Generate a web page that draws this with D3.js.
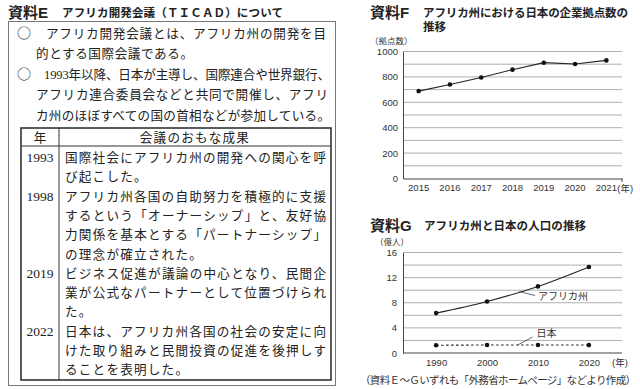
<!DOCTYPE html>
<html>
<head>
<meta charset="utf-8">
<script src="https://cdn.jsdelivr.net/npm/d3@7"></script>
<style>
body { margin: 0; background: #fff; }
.serif text { font-family: "Liberation Serif", "Noto Sans CJK JP", serif; }
.sans text, text.sans { font-family: "Liberation Sans", "Noto Sans CJK JP", sans-serif; }
.cjk text { font-family: "Noto Sans CJK JP", sans-serif; }
</style>
</head>
<body>
<svg width="640" height="389"></svg>
<script>
// 資料F
const baseYears = [2015, 2016, 2017, 2018, 2019, 2020, 2021];
const baseCounts = [688, 740, 795, 857, 912, 901, 930];
const baseTicks = [0, 200, 400, 600, 800, 1000];

// 資料G
const popYears = [1990, 2000, 2010, 2020];
const africaPop = [6.35, 8.2, 10.6, 13.7];
const japanPop = [1.24, 1.27, 1.28, 1.26];
const popTicks = [0, 4, 8, 12, 16];

// 資料E
const introLines = [
  ["○", "アフリカ開発会議とは、アフリカ州の開発を目"],
  ["", "的とする国際会議である。"],
  ["○", "1993年以降、日本が主導し、国際連合や世界銀行、"],
  ["", "アフリカ連合委員会などと共同で開催し、アフリ"],
  ["", "カ州のほぼすべての国の首相などが参加している。"]
];
const tableYears = ["1993", "1998", "2019", "2022"];
const tableTexts = [
  ["国際社会にアフリカ州の開発への関心を呼", "び起こした。"],
  ["アフリカ州各国の自助努力を積極的に支援", "するという「オーナーシップ」と、友好協", "力関係を基本とする「パートナーシップ」", "の理念が確立された。"],
  ["ビジネス促進が議論の中心となり、民間企", "業が公式なパートナーとして位置づけられ", "た。"],
  ["日本は、アフリカ州各国の社会の安定に向", "けた取り組みと民間投資の促進を後押しす", "ることを表明した。"]
];

const svg = d3.select("svg");
const ink = "#222";

// ---------- left panel ----------
const left = svg.append("g").attr("class", "serif");
const head = svg.append("g").attr("class", "sans");
const marks = svg.append("g").attr("class", "cjk");
head.append("text").attr("x", 8).attr("y", 18)
  .attr("font-size", 15).attr("font-weight", "bold").attr("fill", ink).text("資料E");
head.append("text").attr("x", 62).attr("y", 17)
  .attr("font-size", 11.5).attr("font-weight", "bold").attr("fill", ink)
  .attr("textLength", 221).attr("lengthAdjust", "spacing")
  .text("アフリカ開発会議（ＴＩＣＡＤ）について");

left.append("rect").attr("x", 8.5).attr("y", 21.5).attr("width", 327).attr("height", 364)
  .attr("fill", "none").attr("stroke", "#777").attr("stroke-width", 1);

const introY = [33, 53, 74, 94, 115];
const introSpan = [[46, 326], [36, 193], [44, 330], [36, 328], [36, 330]];
introLines.forEach((l, i) => {
  if (l[0]) {
    marks.append("text").attr("x", 17).attr("y", introY[i] + 5).attr("font-size", 14)
      .attr("fill", ink).text(l[0]);
  }
  left.append("text").attr("x", introSpan[i][0]).attr("y", introY[i] + 5)
    .attr("font-size", 12.6).attr("fill", ink)
    .attr("textLength", introSpan[i][1] - introSpan[i][0]).attr("lengthAdjust", "spacing")
    .text(l[1]);
});

// table
const tX0 = 21, tX1 = 331, tY0 = 128, tHead = 146, tY1 = 380, colX = 59;
left.append("rect").attr("x", tX0).attr("y", tY0).attr("width", tX1 - tX0).attr("height", tY1 - tY0)
  .attr("fill", "none").attr("stroke", "#333").attr("stroke-width", 1.6);
left.append("line").attr("x1", tX0).attr("x2", tX1).attr("y1", tHead).attr("y2", tHead)
  .attr("stroke", "#333").attr("stroke-width", 1);
left.append("line").attr("x1", colX).attr("x2", colX).attr("y1", tY0).attr("y2", tY1)
  .attr("stroke", "#333").attr("stroke-width", 1);
left.append("text").attr("x", (tX0 + colX) / 2).attr("y", 142).attr("text-anchor", "middle")
  .attr("font-size", 12.6).attr("fill", ink).text("年");
left.append("text").attr("x", (colX + tX1) / 2).attr("y", 142).attr("text-anchor", "middle")
  .attr("font-size", 12.6).attr("fill", ink).attr("letter-spacing", 1.2).text("会議のおもな成果");

const pitch = 13.8, lineH = 19.3;
let row = 0;
tableTexts.forEach((lines, r) => {
  const y0 = 157 + row * lineH;
  left.append("text").attr("x", (tX0 + colX) / 2).attr("y", y0 + 5).attr("text-anchor", "middle")
    .attr("font-size", 13.5).attr("fill", ink).text(tableYears[r]);
  lines.forEach((t, k) => {
    const n = t.length;
    left.append("text").attr("x", 65).attr("y", 157 + (row + k) * lineH + 5)
      .attr("font-size", 12.6).attr("fill", ink)
      .attr("textLength", n * pitch - 1.2).attr("lengthAdjust", "spacing").text(t);
  });
  row += lines.length;
});

// ---------- chart F ----------
const fx = d3.scaleBand().domain(baseYears).range([403, 622]);
const fy = d3.scaleLinear().domain([0, 1000]).range([178.5, 51.5]);
const f = svg.append("g").attr("class", "sans");

f.append("text").attr("x", 370).attr("y", 18).attr("font-size", 15).attr("font-weight", "bold")
  .attr("fill", ink).text("資料F");
f.append("text").attr("x", 423).attr("y", 17).attr("font-size", 11.5).attr("font-weight", "bold")
  .attr("fill", ink).attr("textLength", 205).attr("lengthAdjust", "spacing")
  .text("アフリカ州における日本の企業拠点数の");
f.append("text").attr("x", 423).attr("y", 31).attr("font-size", 11.5).attr("font-weight", "bold")
  .attr("fill", ink).text("推移");
f.append("text").attr("x", 370).attr("y", 44).attr("font-size", 8.5).attr("fill", "#333").text("（拠点数）");

f.append("g").selectAll("line").data(d3.range(100, 1001, 100)).join("line")
  .attr("x1", 403).attr("x2", 622).attr("y1", d => fy(d)).attr("y2", d => fy(d))
  .attr("stroke", "#9a9a9a").attr("stroke-width", 0.8);

f.append("g").attr("transform", "translate(403,0)")
  .call(d3.axisLeft(fy).tickValues(baseTicks).tickSize(0).tickPadding(5).tickFormat(d3.format("d")))
  .call(a => a.select(".domain").attr("stroke", "#444"))
  .call(a => a.selectAll("text").attr("font-size", 9.5).attr("fill", "#333"));

f.append("g").attr("transform", "translate(0,178.5)")
  .call(d3.axisBottom(fx).tickSize(0).tickPadding(6).tickFormat(d => d))
  .call(a => a.select(".domain").attr("stroke", "#444"))
  .call(a => a.selectAll("text").attr("font-size", 9.5).attr("fill", "#333"));
f.append("line").attr("x1", 622).attr("x2", 622).attr("y1", 178.5).attr("y2", 182)
  .attr("stroke", "#444");
f.append("text").attr("x", fx(2021) + fx.bandwidth() / 2 + 11).attr("y", 191.5)
  .attr("font-size", 9.5).attr("fill", "#333").text("(年)");

const fLine = d3.line().x((d, i) => fx(baseYears[i]) + fx.bandwidth() / 2).y(d => fy(d));
f.append("path").datum(baseCounts).attr("d", fLine).attr("fill", "none")
  .attr("stroke", "#222").attr("stroke-width", 1.1);
f.append("g").selectAll("circle").data(baseCounts).join("circle")
  .attr("cx", (d, i) => fx(baseYears[i]) + fx.bandwidth() / 2).attr("cy", d => fy(d))
  .attr("r", 2.3).attr("fill", "#111");

// ---------- chart G ----------
const gx = d3.scalePoint().domain(popYears).range([403, 622]).padding(0.65);
const gy = d3.scaleLinear().domain([0, 16]).range([353, 252.5]);
const g = svg.append("g").attr("class", "sans");

g.append("text").attr("x", 370).attr("y", 231).attr("font-size", 15).attr("font-weight", "bold")
  .attr("fill", ink).text("資料G");
g.append("text").attr("x", 424).attr("y", 230).attr("font-size", 11.5).attr("font-weight", "bold")
  .attr("fill", ink).attr("textLength", 162).attr("lengthAdjust", "spacing")
  .text("アフリカ州と日本の人口の推移");
g.append("text").attr("x", 375).attr("y", 245).attr("font-size", 8.5).attr("fill", "#333").text("（億人）");

g.append("g").selectAll("line").data(d3.range(2, 17, 2)).join("line")
  .attr("x1", 403).attr("x2", 622).attr("y1", d => gy(d)).attr("y2", d => gy(d))
  .attr("stroke", "#9a9a9a").attr("stroke-width", 0.8);

g.append("g").attr("transform", "translate(403,0)")
  .call(d3.axisLeft(gy).tickValues(popTicks).tickSize(0).tickPadding(6))
  .call(a => a.select(".domain").attr("stroke", "#444"))
  .call(a => a.selectAll("text").attr("font-size", 9.5).attr("fill", "#333"));
g.append("g").attr("transform", "translate(0,353)")
  .call(d3.axisBottom(gx).tickSize(0).tickPadding(6).tickFormat(d => d))
  .call(a => a.select(".domain").attr("stroke", "#444").attr("d", "M403,0H622"))
  .call(a => a.selectAll("text").attr("font-size", 9.5).attr("fill", "#333"));
g.append("text").attr("x", 620).attr("y", 366).attr("text-anchor", "middle")
  .attr("font-size", 9.5).attr("fill", "#333").text("(年)");

const gLine = d3.line().x((d, i) => gx(popYears[i])).y(d => gy(d)).curve(d3.curveMonotoneX);
g.append("path").datum(africaPop).attr("d", gLine).attr("fill", "none")
  .attr("stroke", "#222").attr("stroke-width", 1.1);
g.append("path").datum(japanPop).attr("d", gLine).attr("fill", "none")
  .attr("stroke", "#222").attr("stroke-width", 1.1).attr("stroke-dasharray", "2.5,2.5");
[africaPop, japanPop].forEach(s => {
  g.append("g").selectAll("circle").data(s).join("circle")
    .attr("cx", (d, i) => gx(popYears[i])).attr("cy", d => gy(d))
    .attr("r", 2.3).attr("fill", "#111");
});

// callouts
const ax = gx(2000) + (gx(2010) - gx(2000)) * 0.63;
const ay = gy(africaPop[1] + (africaPop[2] - africaPop[1]) * 0.66);
g.append("line").attr("x1", ax).attr("y1", ay).attr("x2", ax + 16).attr("y2", ay + 4)
  .attr("stroke", "#444").attr("stroke-width", 0.8);
g.append("text").attr("x", ax + 19).attr("y", ay + 8).attr("font-size", 10).attr("fill", "#333")
  .text("アフリカ州");
const jx = gx(2000) + (gx(2010) - gx(2000)) * 0.6;
const jy = gy(japanPop[1]);
g.append("line").attr("x1", jx).attr("y1", jy).attr("x2", jx + 15).attr("y2", jy - 8)
  .attr("stroke", "#444").attr("stroke-width", 0.8);
g.append("text").attr("x", jx + 19).attr("y", jy - 8).attr("font-size", 10).attr("fill", "#333")
  .text("日本");

svg.append("g").attr("class", "serif").append("text").attr("x", 636).attr("y", 384).attr("text-anchor", "end")
  .attr("font-size", 10.5).attr("fill", "#333").attr("textLength", 276).attr("lengthAdjust", "spacing")
  .text("（資料Ｅ～Ｇいずれも「外務省ホームページ」などより作成）");
</script>
</body>
</html>
